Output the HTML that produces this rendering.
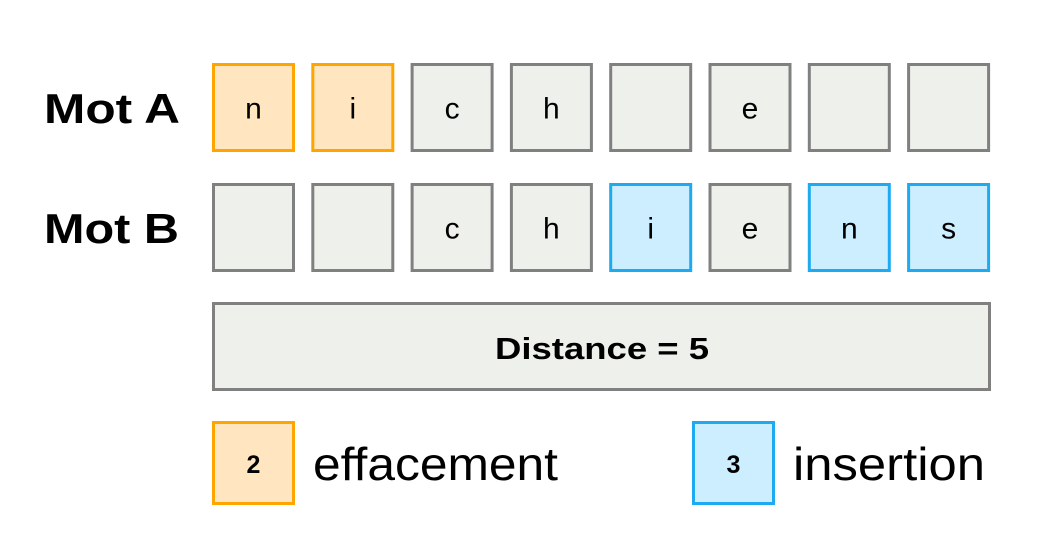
<!DOCTYPE html>
<html><head><meta charset="utf-8"><style>
body{margin:0;background:#fff;}
svg text{font-family:"Liberation Sans",sans-serif;}
</style></head><body>
<svg width="1062" height="535" xmlns="http://www.w3.org/2000/svg">
<g id="rows"></g>
<text x="44" y="123" font-size="42" font-weight="bold" textLength="136" lengthAdjust="spacingAndGlyphs">Mot A</text>
<text x="44" y="243" font-size="42" font-weight="bold" textLength="135" lengthAdjust="spacingAndGlyphs">Mot B</text>
<rect x="213.5" y="303.5" width="776" height="86" fill="#edf0eb" stroke="#808080" stroke-width="3"/>
<text x="495" y="359" font-size="31" font-weight="bold" textLength="214" lengthAdjust="spacingAndGlyphs">Distance = 5</text>
<rect x="213.5" y="422.5" width="80" height="81" fill="#ffe6c0" stroke="#ffa500" stroke-width="3"/>
<text x="253.5" y="473" font-size="25" font-weight="bold" text-anchor="middle">2</text>
<text x="313" y="480" font-size="46" textLength="245" lengthAdjust="spacingAndGlyphs">effacement</text>
<rect x="693.5" y="422.5" width="80" height="81" fill="#cceeff" stroke="#1eaaf1" stroke-width="3"/>
<text x="733.5" y="473" font-size="25" font-weight="bold" text-anchor="middle">3</text>
<text x="793" y="480" font-size="46" textLength="192" lengthAdjust="spacingAndGlyphs">insertion</text>
</svg>
<script>
const wordA=["n","i","c","h","","e","",""];
const wordB=["","","c","h","i","e","n","s"];
const typeA=["del","del","","","","","",""];
const typeB=["","","","","ins","","ins","ins"];
const colors={del:["#ffe6c0","#ffa500"],ins:["#cceeff","#1eaaf1"],"":["#edf0eb","#808080"]};
const g=document.getElementById('rows');
const NS="http://www.w3.org/2000/svg";
function drawRow(word,types,y){
  word.forEach((ch,i)=>{
    const x=213.5+i*99.3;
    const c=colors[types[i]];
    const r=document.createElementNS(NS,'rect');
    r.setAttribute('x',x);r.setAttribute('y',y);r.setAttribute('width',80);r.setAttribute('height',86);
    r.setAttribute('fill',c[0]);r.setAttribute('stroke',c[1]);r.setAttribute('stroke-width',3);
    
    
    g.appendChild(r);
    if(ch){
      const t=document.createElementNS(NS,'text');
      t.setAttribute('x',x+40);t.setAttribute('y',y+54);t.setAttribute('font-size',30);t.setAttribute('text-anchor','middle');
      t.textContent=ch;
      
      
      g.appendChild(t);
    }
  });
}
drawRow(wordA,typeA,64.5);
drawRow(wordB,typeB,184.5);
</script>
</body></html>
